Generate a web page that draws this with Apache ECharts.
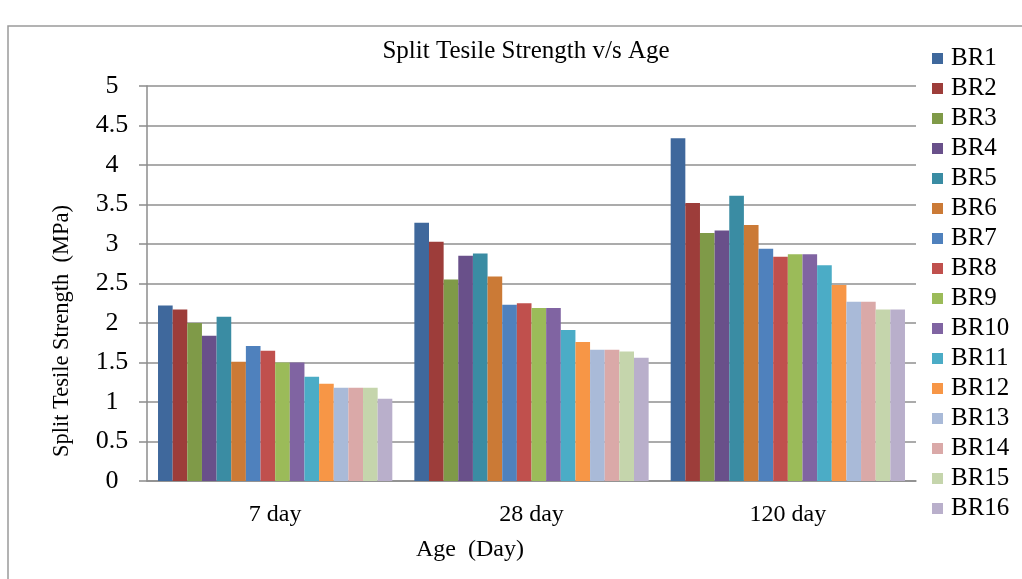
<!DOCTYPE html>
<html>
<head>
<meta charset="utf-8">
<script src="https://cdn.jsdelivr.net/npm/echarts@6/dist/echarts.min.js"></script>
<style>
html,body{margin:0;padding:0;background:#fff;}
#c{width:1022px;height:579px;}
</style>
</head>
<body>
<div id="c"></div>
<script>
const categories = ['7 day', '28 day', '120 day'];
const seriesNames = ['BR1','BR2','BR3','BR4','BR5','BR6','BR7','BR8','BR9','BR10','BR11','BR12','BR13','BR14','BR15','BR16'];
const BR1  = [2.22, 3.27, 4.34];
const BR2  = [2.17, 3.03, 3.52];
const BR3  = [2.00, 2.55, 3.14];
const BR4  = [1.84, 2.85, 3.17];
const BR5  = [2.08, 2.88, 3.61];
const BR6  = [1.51, 2.59, 3.24];
const BR7  = [1.71, 2.23, 2.94];
const BR8  = [1.65, 2.25, 2.84];
const BR9  = [1.50, 2.19, 2.87];
const BR10 = [1.50, 2.19, 2.87];
const BR11 = [1.32, 1.91, 2.73];
const BR12 = [1.23, 1.76, 2.48];
const BR13 = [1.18, 1.66, 2.27];
const BR14 = [1.18, 1.66, 2.27];
const BR15 = [1.18, 1.64, 2.17];
const BR16 = [1.04, 1.56, 2.17];
const seriesValues = [BR1,BR2,BR3,BR4,BR5,BR6,BR7,BR8,BR9,BR10,BR11,BR12,BR13,BR14,BR15,BR16];
const colors = ['#3F689C','#9D3D3A','#7F9A48','#69508A','#3A8CA3','#CB7A36','#4F81BD','#C0504D','#9BBB59','#8064A2','#4BACC6','#F79646','#A9BAD8','#DAA9A8','#C5D5AC','#B9AFCB'];
const yTicks = {min: 0, max: 5, interval: 0.5};

const font = 'Liberation Serif';
const chart = echarts.init(document.getElementById('c'));
chart.setOption({
  animation: false,
  backgroundColor: '#fff',
  color: colors,
  textStyle: {fontFamily: font},
  title: {
    text: 'Split Tesile Strength v/s Age',
    left: 521, top: 34, textAlign: 'center',
    textStyle: {fontFamily: font, fontSize: 25, fontWeight: 'normal', color: '#000'}
  },
  graphic: [
    {type: 'rect', shape: {x: 8, y: 26, width: 1100, height: 700}, style: {fill: 'none', stroke: '#9a9a9a', lineWidth: 1.5}, z: -1},
    {type: 'text', x: 62, y: 331, rotation: Math.PI / 2,
     style: {text: 'Split Tesile Strength  (MPa)', fontFamily: font, fontSize: 22.5, fill: '#000', align: 'center', verticalAlign: 'middle'}},
    {type: 'text', x: 470, y: 550,
     style: {text: 'Age  (Day)', fontFamily: font, fontSize: 24, fill: '#000', align: 'center', verticalAlign: 'middle'}}
  ],
  legend: {
    orient: 'vertical', left: 932, top: 46, padding: 0,
    icon: 'rect', itemWidth: 11, itemHeight: 11, itemGap: 5,
    formatter: '{s|{name}}',
    textStyle: {
      fontFamily: font, fontSize: 25, color: '#000',
      rich: {s: {fontFamily: font, fontSize: 25, color: '#000', padding: [0, 0, 0, 3]}}
    },
    data: seriesNames
  },
  grid: {left: 147, right: 106, top: 86, bottom: 98, containLabel: false},
  xAxis: {
    type: 'category', data: categories,
    axisLine: {lineStyle: {color: '#8c8c8c', width: 1.5}},
    axisTick: {show: false},
    axisLabel: {fontFamily: font, fontSize: 24, color: '#000', margin: 22}
  },
  yAxis: {
    type: 'value', min: yTicks.min, max: yTicks.max, interval: yTicks.interval,
    axisLine: {show: true, lineStyle: {color: '#8c8c8c', width: 1.5}},
    axisTick: {show: true, length: 8, lineStyle: {color: '#8c8c8c', width: 1.5}},
    splitLine: {lineStyle: {color: '#8f8f8f', width: 1.5}},
    axisLabel: {fontFamily: font, fontSize: 26, color: '#000', align: 'center', margin: 35}
  },
  series: seriesNames.map((n, i) => ({
    name: n, type: 'bar', data: seriesValues[i],
    barGap: '0%', barCategoryGap: '8.6%'
  }))
});
</script>
</body>
</html>
